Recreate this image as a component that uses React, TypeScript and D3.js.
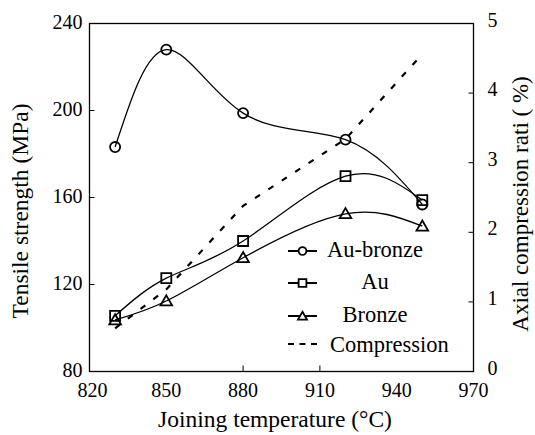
import { useRef, useEffect } from 'react';
import * as d3 from 'd3';

// joining temperature (°C)
const temps = [830, 850, 880, 920, 950];
// tensile strength (MPa)
const auBronze = [183.2, 228, 198.8, 186.6, 156.8];
const au = [105.6, 122.9, 140, 169.8, 158.8];
const bronze = [103.7, 112.4, 132.3, 152.5, 146.8];
// axial compression ratio (%)
const compression = [0.62, 1.18, 2.38, 3.34, 4.56];

const xTicks = [820, 850, 880, 910, 940, 970];
const xTickMarks = [880, 910];
const yTicks = [80, 120, 160, 200, 240];
const y2Ticks = [0, 1, 2, 3, 4, 5];
const legendNames = ['Au-bronze', 'Au', 'Bronze', 'Compression'];

const FONT = "'Liberation Serif', 'Times New Roman', Times, 'DejaVu Serif', serif";

const App = () => {
  const svgRef = useRef(null);

  useEffect(() => {
    const svg = d3.select(svgRef.current);
    svg.selectAll('*').remove();

    const width = 535;
    const height = 435;
    const left = 89.5, right = 473.5, top = 23.5, bottom = 371.5;

    svg.attr('width', width).attr('height', height);

    const x = d3.scaleLinear().domain([820, 970]).range([left, right]);
    const y = d3.scaleLinear().domain([80, 240]).range([bottom, top]);
    const y2 = d3.scaleLinear().domain([0, 5]).range([bottom, top]);

    svg.append('rect')
      .attr('width', width).attr('height', height).attr('fill', '#fff');

    // frame
    svg.append('rect')
      .attr('x', left).attr('y', top)
      .attr('width', right - left).attr('height', bottom - top)
      .attr('fill', 'none').attr('stroke', '#000').attr('stroke-width', 1.3);

    // inner ticks
    svg.append('g').selectAll('line')
      .data(yTicks.slice(1, -1))
      .join('line')
      .attr('x1', left).attr('x2', left + 5)
      .attr('y1', d => y(d)).attr('y2', d => y(d))
      .attr('stroke', '#000');
    svg.append('g').selectAll('line')
      .data(y2Ticks.slice(1, -1))
      .join('line')
      .attr('x1', right - 5).attr('x2', right)
      .attr('y1', d => y2(d)).attr('y2', d => y2(d))
      .attr('stroke', '#000');
    svg.append('g').selectAll('line')
      .data(xTickMarks)
      .join('line')
      .attr('x1', d => x(d)).attr('x2', d => x(d))
      .attr('y1', bottom).attr('y2', bottom - 6)
      .attr('stroke', '#000');

    // every text gets the serif face inline
    const txt = (sel) => sel.style('font-family', FONT).attr('fill', '#000');

    svg.append('g').selectAll('text')
      .data(yTicks)
      .join('text')
      .call(txt)
      .attr('x', left - 7)
      .attr('y', d => y(d) + 5)
      .attr('text-anchor', 'end')
      .attr('font-size', 20)
      .text(d => d);
    svg.append('g').selectAll('text')
      .data(y2Ticks)
      .join('text')
      .call(txt)
      .attr('x', right + 14)
      .attr('y', d => y2(d) + 3)
      .attr('text-anchor', 'start')
      .attr('font-size', 20)
      .text(d => d);
    svg.append('g').selectAll('text')
      .data(xTicks)
      .join('text')
      .call(txt)
      .attr('x', (d, i) => x(d) + (i === 0 ? 3 : 0))
      .attr('y', 397)
      .attr('text-anchor', 'middle')
      .attr('font-size', 20)
      .text(d => d);

    // axis titles
    svg.append('text').call(txt)
      .attr('x', 275).attr('y', 427)
      .attr('text-anchor', 'middle')
      .attr('font-size', 23.5)
      .text('Joining temperature (°C)');
    svg.append('text').call(txt)
      .attr('transform', 'translate(28,211) rotate(-90)')
      .attr('text-anchor', 'middle')
      .attr('font-size', 23.5)
      .text('Tensile strength (MPa)');
    svg.append('text').call(txt)
      .attr('transform', 'translate(528,204) rotate(-90)')
      .attr('text-anchor', 'middle')
      .attr('font-size', 23)
      .text('Axial compression rati ( %)');

    // compression (dashed, right axis)
    const lin = d3.line().x(d => x(d[0])).y(d => y2(d[1]));
    svg.append('path')
      .attr('d', lin(temps.map((t, i) => [t, compression[i]])))
      .attr('fill', 'none').attr('stroke', '#000')
      .attr('stroke-width', 2.2).attr('stroke-dasharray', '6,10');

    const spline = d3.line().curve(d3.curveNatural)
      .x(d => x(d[0])).y(d => y(d[1]));

    const series = [
      { values: auBronze, symbol: d3.symbolCircle, size: 80 },
      { values: au, symbol: d3.symbolSquare, size: 100 },
      { values: bronze, symbol: d3.symbolTriangle, size: 58 },
    ];

    series.forEach(s => {
      svg.append('path')
        .attr('d', spline(temps.map((t, i) => [t, s.values[i]])))
        .attr('fill', 'none').attr('stroke', '#000').attr('stroke-width', 1.3);
    });

    series.forEach(s => {
      svg.append('g').selectAll('path')
        .data(temps.map((t, i) => [t, s.values[i]]))
        .join('path')
        .attr('transform', d => `translate(${x(d[0])},${y(d[1]) + (s.symbol === d3.symbolTriangle ? 1 : 0)})`)
        .attr('d', d3.symbol(s.symbol, s.size)())
        .attr('fill', 'none').attr('stroke', '#000').attr('stroke-width', 1.8);
    });

    // legend
    const legendY = [251, 283, 316, 344];
    const lg = svg.append('g');
    legendNames.forEach((name, i) => {
      const ly = legendY[i];
      if (i < 3) {
        lg.append('line')
          .attr('x1', 288).attr('x2', 317).attr('y1', ly).attr('y2', ly)
          .attr('stroke', '#000').attr('stroke-width', 2);
        lg.append('path')
          .attr('transform', `translate(302.5,${ly + (i === 2 ? 1 : 0)})`)
          .attr('d', d3.symbol(series[i].symbol, series[i].size * 0.6)())
          .attr('fill', '#fff').attr('stroke', '#000').attr('stroke-width', 1.8);
        lg.append('text').call(txt)
          .attr('x', 375).attr('y', ly + 6)
          .attr('text-anchor', 'middle')
          .attr('font-size', 22.5)
          .text(name);
      } else {
        lg.append('line')
          .attr('x1', 288).attr('x2', 318).attr('y1', ly).attr('y2', ly)
          .attr('stroke', '#000').attr('stroke-width', 1.8)
          .attr('stroke-dasharray', '6,5.5');
        lg.append('text').call(txt)
          .attr('x', 330).attr('y', ly + 8)
          .attr('text-anchor', 'start')
          .attr('font-size', 22.5)
          .text(name);
      }
    });
  }, []);

  return (
    <svg ref={svgRef} style={{ position: 'absolute', left: 0, top: 0 }}></svg>
  );
};

export default App;
